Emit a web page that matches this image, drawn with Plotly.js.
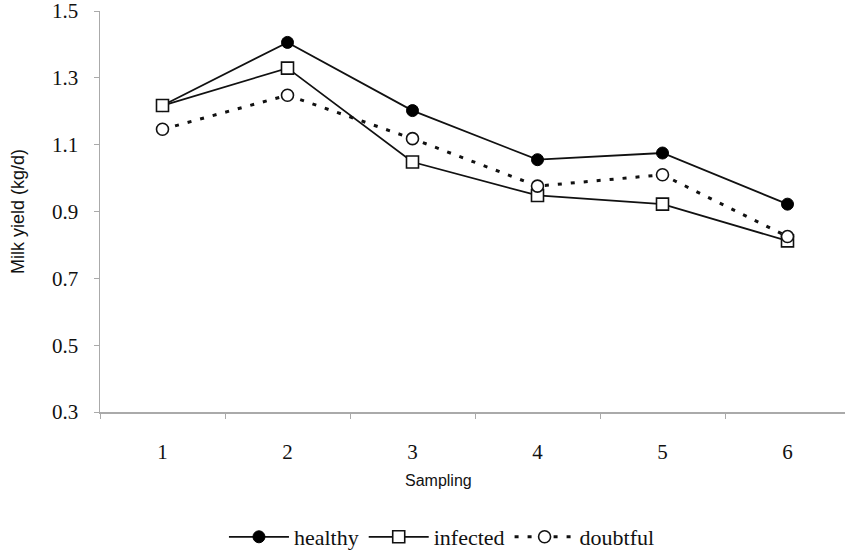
<!DOCTYPE html>
<html>
<head>
<meta charset="utf-8">
<script src="https://cdn.plot.ly/plotly-3.0.1.min.js"></script>
<style>html,body{margin:0;padding:0;background:#fff;}#chart{width:845px;height:558px;}</style>
</head>
<body>
<div id="chart"></div>
<script>
const samplings = ["1", "2", "3", "4", "5", "6"];
const healthy = [1.217, 1.406, 1.202, 1.055, 1.075, 0.922];
const infected = [1.217, 1.329, 1.048, 0.948, 0.922, 0.812];
const doubtful = [1.146, 1.248, 1.118, 0.976, 1.010, 0.825];
const yTicks = [0.3, 0.5, 0.7, 0.9, 1.1, 1.3, 1.5];
const yTickLabels = ["0.3", "0.5", "0.7", "0.9", "1.1", "1.3", "1.5"];

const traces = [
  {x: samplings, y: healthy, name: "healthy", type: "scatter", mode: "lines+markers",
   line: {color: "#111", width: 1.8},
   marker: {symbol: "circle", size: 12, color: "#000", line: {color: "#000", width: 1}}},
  {x: samplings, y: infected, name: "infected", type: "scatter", mode: "lines+markers",
   line: {color: "#111", width: 1.8},
   marker: {symbol: "square", size: 12, color: "#fff", line: {color: "#111", width: 1.6}}},
  {x: samplings, y: doubtful, name: "doubtful", type: "scatter", mode: "lines+markers",
   line: {color: "#111", width: 3, dash: "4px,9px"},
   marker: {symbol: "circle", size: 12, color: "#fff", line: {color: "#111", width: 1.6}}}
];

const layout = {
  width: 845, height: 558,
  margin: {l: 100, r: 0, t: 11, b: 140},
  paper_bgcolor: "#fff", plot_bgcolor: "#fff",
  showlegend: true,
  legend: {orientation: "h", x: 0.459, xanchor: "center", y: -0.312, yanchor: "middle",
           font: {family: "Liberation Serif, Times New Roman, serif", size: 22, color: "#111"},
           itemwidth: 60, tracegroupgap: 0},
  xaxis: {type: "category", range: [-0.5, 5.46], tickson: "boundaries",
          showline: true, linecolor: "#aaa", linewidth: 1.5,
          ticks: "outside", ticklen: 5, tickcolor: "#aaa", tickwidth: 1,
          showgrid: false, zeroline: false,
          ticklabelstandoff: 20, ticklabeloverflow: "allow",
          tickfont: {family: "Liberation Serif, Times New Roman, serif", size: 21, color: "#111"}},
  yaxis: {range: [0.3, 1.5], tickvals: yTicks, ticktext: yTickLabels,
          showline: true, linecolor: "#aaa", linewidth: 1.5,
          ticks: "outside", ticklen: 5, tickcolor: "#aaa", tickwidth: 1,
          showgrid: false, zeroline: false,
          ticklabelstandoff: 11, ticklabeloverflow: "allow",
          tickfont: {family: "Liberation Serif, Times New Roman, serif", size: 21, color: "#111"}},
  annotations: [
    {text: "Sampling", xref: "paper", yref: "paper", x: (438 - 100) / 745, y: (418 - 488) / 407,
     xanchor: "center", yanchor: "middle", showarrow: false,
     font: {family: "Liberation Sans, Arial, sans-serif", size: 16, color: "#111"}},
    {text: "Milk yield (kg/d)", xref: "paper", yref: "paper", x: (18 - 100) / 745, y: (418 - 215) / 407,
     xanchor: "center", yanchor: "middle", textangle: -90, showarrow: false,
     font: {family: "Liberation Sans, Arial, sans-serif", size: 18, color: "#111"}}
  ]
};

Plotly.newPlot("chart", traces, layout, {displayModeBar: false, staticPlot: true});
</script>
</body>
</html>
